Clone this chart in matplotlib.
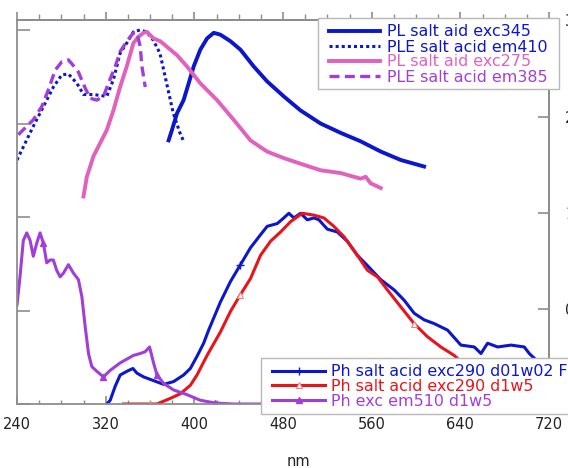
import matplotlib
matplotlib.use("Agg")
import matplotlib.pyplot as plt
from matplotlib.ticker import MultipleLocator, FixedLocator
from matplotlib.patches import Rectangle

# ---------------- data (wavelength nm, intensity in left-axis units) ----------------
ple410_x = [240, 254.7, 263.8, 272.8, 280.4, 286.4, 294, 300, 309, 321, 327, 333, 339, 345,
            351, 357, 363, 369, 375, 381, 387, 390]
ple410_y = [2.61, 2.97, 3.18, 3.39, 3.52, 3.53, 3.43, 3.31, 3.31, 3.29, 3.47, 3.75, 3.86, 3.98,
            4.00, 3.98, 3.89, 3.75, 3.43, 3.11, 2.90, 2.82]

ple385_x = [241.2, 248.8, 254.7, 262.3, 268.3, 274.4, 280.4, 286.4, 289.4, 295.4, 301.5, 306,
            312, 318, 322.5, 328.6, 333.1, 339.1, 345.1, 348.2, 351.2, 352.7, 355.7]
ple385_y = [2.88, 2.97, 3.04, 3.18, 3.36, 3.57, 3.66, 3.68, 3.64, 3.55, 3.38, 3.27,
            3.25, 3.29, 3.43, 3.61, 3.77, 3.88, 3.97, 3.97, 3.82, 3.61, 3.39]

pl275_x = [300, 303, 309, 315, 321, 327, 333, 339, 345, 349.7, 354.2, 357.3, 363.2, 369.3,
           375.3, 384.4, 393.4, 405.4, 420.5, 435.5, 450.6, 465.6, 480.7, 495.8, 513.9,
           532, 550, 554.6, 559.1, 568.2]
pl275_y = [2.22, 2.43, 2.65, 2.79, 2.93, 3.14, 3.39, 3.61, 3.86, 3.93, 3.97, 3.98, 3.91, 3.88,
           3.82, 3.73, 3.61, 3.43, 3.25, 3.04, 2.82, 2.70, 2.63, 2.57, 2.50,
           2.47, 2.41, 2.43, 2.36, 2.31]

pl345_x = [376.8, 379.8, 384.4, 390.3, 394.9, 399.4, 405.4, 411.5, 417.5, 423.5, 432.6, 441.6,
           453.6, 465.7, 480.7, 495.8, 513.9, 532, 550, 568.2, 586.2, 607.3]
pl345_y = [2.82, 2.93, 3.11, 3.25, 3.43, 3.61, 3.79, 3.91, 3.97, 3.95, 3.88, 3.79,
           3.61, 3.45, 3.29, 3.14, 3.00, 2.90, 2.81, 2.70, 2.61, 2.54]

ph_d01_x = [321.1, 324.1, 328.6, 333.1, 339.2, 344.6, 348.2, 354.2, 363.2, 372.3, 381.3, 390.3,
            396.4, 402.4, 408.4, 412.9, 423.5, 432.6, 441.6, 450.6, 459.7, 465.7, 474.8, 480.7,
            485.3, 489.8, 495.8, 501.9, 507.9, 512.4, 520, 529, 538.1, 547.1, 556.2, 568.2,
            580.3, 589.3, 598.4, 607.4, 616.4, 628.5, 640.5, 652.6, 658.6, 664.6, 673.7,
            685.7, 697.7, 702.2, 706.7, 715, 720]
ph_d01_y = [0.00, 0.04, 0.19, 0.31, 0.35, 0.38, 0.33, 0.29, 0.25, 0.21, 0.24, 0.31,
            0.38, 0.51, 0.65, 0.79, 1.09, 1.31, 1.49, 1.67, 1.81, 1.90, 1.93, 1.99,
            2.04, 1.99, 2.04, 1.97, 1.99, 1.97, 1.87, 1.84, 1.74, 1.59, 1.48, 1.33,
            1.22, 1.11, 0.97, 0.90, 0.86, 0.79, 0.63, 0.61, 0.54, 0.65, 0.61,
            0.63, 0.61, 0.54, 0.49, 0.40, 0.35]

ph_d1_x = [336.1, 360.2, 366.3, 378.3, 387.4, 396.4, 402.4, 411.5, 423.5, 432.6, 441.6, 450.6,
           459.7, 468.7, 477.8, 486.8, 497.4, 507.9, 516.9, 525.9, 535, 547.1, 556.2, 565.2,
           574.2, 586.2, 598.3, 610.3, 622.4, 634.4, 650, 680, 700]
ph_d1_y = [0.00, 0.00, 0.00, 0.06, 0.11, 0.20, 0.31, 0.52, 0.77, 0.99, 1.17, 1.34,
           1.59, 1.74, 1.84, 1.95, 2.04, 2.02, 1.99, 1.90, 1.79, 1.59, 1.43, 1.36,
           1.22, 1.04, 0.86, 0.72, 0.61, 0.52, 0.35, 0.20, 0.12]

ph_exc_x = [240, 242.7, 245.7, 248.8, 251.8, 254.7, 257.8, 260.8, 263.8, 266.8, 269.8, 272.8,
            275.8, 278.9, 281.9, 286.4, 290.9, 295.4, 298.5, 301.5, 304.5, 307.5, 312, 318,
            324.1, 333.1, 345.1, 351.2, 355.7, 359.6, 363.2, 366.3, 372.3, 381.3, 393.4,
            405.4, 419, 435.5, 459.7]
ph_exc_y = [1.06, 1.36, 1.75, 1.83, 1.75, 1.58, 1.72, 1.83, 1.72, 1.51, 1.54, 1.54,
            1.43, 1.36, 1.40, 1.49, 1.40, 1.33, 1.15, 0.83, 0.54, 0.40, 0.35, 0.29,
            0.36, 0.44, 0.52, 0.54, 0.56, 0.61, 0.44, 0.31, 0.22, 0.15, 0.10,
            0.04, 0.01, 0.00, 0.00]

labels_top = ["PL salt aid exc345", "PLE salt acid em410", "PL salt aid exc275", "PLE salt acid em385"]
labels_bot = ["Ph salt acid exc290 d01w02 F", "Ph salt acid exc290 d1w5", "Ph exc em510 d1w5"]
x_ticks = [240, 320, 400, 480, 560, 640, 720]
right_ticks = [0, 1, 2, 3]

BLUE = "#0c16cc"
PINK = "#e062bc"
PURPLE = "#a23ed8"
RED = "#e8141c"
GREY = "#8e8e8e"
W, H = 568, 468

plt.rcParams["font.family"] = ["DejaVu Sans"]

fig = plt.figure(figsize=(W / 100, H / 100), dpi=100)
ax = fig.add_axes([17 / W, 64 / H, 532 / W, 384 / H])
ax.set_xlim(240, 720)
ax.set_ylim(0, 4.107)

# top group
l1, = ax.plot(pl345_x, pl345_y, color=BLUE, lw=2.8, solid_joinstyle="round")
l2, = ax.plot(ple410_x, ple410_y, color=BLUE, lw=2.2, linestyle=(0, (1, 1)))
l3, = ax.plot(pl275_x, pl275_y, color=PINK, lw=2.8, solid_joinstyle="round")
l4, = ax.plot(ple385_x, ple385_y, color=PURPLE, lw=2.4, linestyle=(0, (3, 1.6)))

# bottom group
b1, = ax.plot(ph_d01_x, ph_d01_y, color=BLUE, lw=2.2, marker="+", ms=6, mew=1.0,
              markevery=[18])
b2, = ax.plot(ph_d1_x, ph_d1_y, color=RED, lw=2.2, marker="^", ms=5, mew=0.8,
              mfc="white", mec="#f08080", markevery=[1, 10, 26])
b3, = ax.plot(ph_exc_x, ph_exc_y, color=PURPLE, lw=2.2, marker="^", ms=5,
              markevery=[8, 23, 31, 36])

# axes styling
for s in ax.spines.values():
    s.set_color(GREY)
    s.set_linewidth(1.3)

ax.xaxis.set_major_locator(FixedLocator(x_ticks))
ax.xaxis.set_minor_locator(MultipleLocator(20))
ax.tick_params(axis="x", which="both", direction="in", colors=GREY, labelcolor="#222222",
               top=False, bottom=True, labelsize=10.5, pad=9.5)
ax.tick_params(axis="x", which="major", length=6, width=1.2)
ax.tick_params(axis="x", which="minor", length=3, width=1.0)
ax.set_xticklabels([str(v) for v in x_ticks])

ax.yaxis.set_major_locator(FixedLocator([0, 1, 2, 3, 4]))
ax.tick_params(axis="y", which="major", direction="in", length=9, width=1.2, colors=GREY,
               left=True, right=False, labelleft=False)

# top ticks drawn outward
top = ax.secondary_xaxis("top")
top.xaxis.set_major_locator(FixedLocator(x_ticks))
top.xaxis.set_minor_locator(MultipleLocator(20))
top.tick_params(axis="x", which="major", direction="out", length=6, width=1.2, colors=GREY,
                labeltop=False)
top.tick_params(axis="x", which="minor", direction="out", length=4, width=1.0, colors=GREY)
top.spines["top"].set_color(GREY)
top.spines["top"].set_linewidth(1.3)

# right axis (its labels lie mostly beyond the picture's right edge, as in the reference)
right = ax.secondary_yaxis("right", functions=(lambda v: (v - 1.016) / 1.029,
                                               lambda r: r * 1.029 + 1.016))
right.yaxis.set_major_locator(FixedLocator(right_ticks))
right.set_yticklabels([str(v) for v in right_ticks])
right.tick_params(axis="y", direction="in", length=8, width=1.2, colors=GREY,
                  labelcolor="#222222", labelsize=10.5, pad=11.5)
right.spines["right"].set_color(GREY)
right.spines["right"].set_linewidth(1.3)

fig.text(298 / W, 1 - 462 / H, "nm", ha="center", va="center", fontsize=10.5, color="#222222")


def frame(x0, y0, x1, y1):
    """White legend frame given in picture pixels (top-left origin)."""
    r = Rectangle((x0 / W, 1 - y1 / H), (x1 - x0) / W, (y1 - y0) / H,
                  transform=fig.transFigure, facecolor="white", edgecolor="#b8b8b8",
                  linewidth=1.0, zorder=4, clip_on=False)
    ax.add_patch(r)


frame(318, 18, 559, 89)
leg1 = ax.legend([l1, l2, l3, l4], labels_top, loc="upper left",
                 bbox_to_anchor=(329 / W, 1 - 24.5 / H), bbox_transform=fig.transFigure,
                 fontsize=11.4, labelcolor="linecolor", frameon=False,
                 handlelength=3.22, handletextpad=0.44,
                 labelspacing=0.0, borderpad=0.0, borderaxespad=0)
ax.add_artist(leg1)

frame(261, 358, 575, 414)
leg2 = ax.legend([b1, b2, b3], labels_bot, loc="upper left",
                 bbox_to_anchor=(272 / W, 1 - 364.5 / H), bbox_transform=fig.transFigure,
                 fontsize=11.4, labelcolor="linecolor", frameon=False,
                 handlelength=3.35, handletextpad=0.38,
                 labelspacing=-0.03, borderpad=0.0, borderaxespad=0, numpoints=1)

fig.savefig("out.png", dpi=100)
